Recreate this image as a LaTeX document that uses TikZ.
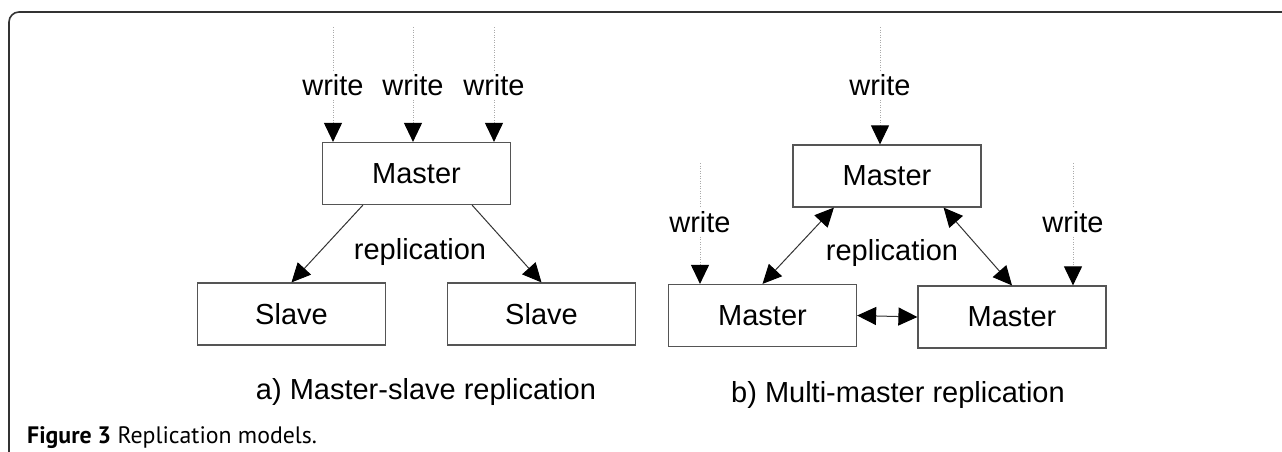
\documentclass[tikz,border=0pt]{standalone}
\usepackage{fontspec}
\setmainfont{Liberation Sans}
\newfontfamily\capfont{PT Sans}
\usetikzlibrary{arrows.meta,calc}
\definecolor{boxgray}{HTML}{555555}
\definecolor{linegray}{HTML}{333333}
\definecolor{dotgray}{HTML}{AAAAAA}
\tikzset{
  box/.style={draw=boxgray, line width=1.2pt, minimum width=188pt, minimum height=62pt, inner sep=0pt, font=\fontsize{29}{34}\selectfont},
  lbl/.style={inner sep=4pt, font=\fontsize{29}{34}\selectfont},
  dotline/.style={draw=dotgray, line width=1pt, dash pattern=on 1pt off 1.5pt},
  tip/.style={-{Triangle[length=19pt,width=18pt,color=black]}},
  tips/.style={{Triangle[length=19pt,width=18pt,color=black]}-{Triangle[length=19pt,width=18pt,color=black]}},
  repl/.style={draw=linegray, line width=1pt},
}
\begin{document}
\begin{tikzpicture}[x=1pt,y=-1pt]
\useasboundingbox (0,0) rectangle (1282,451);
\draw[linegray, line width=1.6pt, rounded corners=10pt] (9,452) -- (9,12) -- (1283,12);

% a) master-slave
\node[box] (Ma) at (416.5,173.5) {Master};
\node[box] (S1) at (291.5,314) {Slave};
\node[box] (S2) at (541.5,314) {Slave};
\foreach \n/\x in {1/333,2/413,3/494}{
  \coordinate (ta\n) at (\x,27);
  \node[lbl] (wa\n) at (\x,85) {write};
  \draw[dotline] (ta\n) -- (wa\n);
  \draw[dotline, tip] (wa\n) -- (wa\n |- Ma.north);
}
\draw[repl, tip] ($(Ma.south west)+(41,0)$) -- (S1.north);
\draw[repl, tip] ($(Ma.south east)+(-39,0)$) -- (S2.north);
\node[lbl] (ra) at (420,252) {replication};
\node[lbl] (capa) at (426,392) {a) Master-slave replication};

% b) multi-master
\node[box] (Mt) at (887,176) {Master};
\node[box] (Ml) at (762.5,315.5) {Master};
\node[box] (Mr) at (1012,317) {Master};
\coordinate (tb) at (880,27);
\node[lbl] (wb) at (880,85) {write};
\draw[dotline] (tb) -- (wb);
\draw[dotline, tip] (wb) -- (wb |- Mt.north);
\coordinate (tl) at (700,163);
\node[lbl] (wl) at (700,222) {write};
\draw[dotline] (tl) -- (wl);
\draw[dotline, tip] (wl) -- (wl |- Ml.north);
\coordinate (tr) at (1073,163);
\node[lbl] (wr) at (1073,222) {write};
\draw[dotline] (tr) -- (wr);
\draw[dotline, tip] (wr) -- (wr |- Mr.north);
\draw[repl, tips] ($(Mt.south west)+(41.5,0)$) -- (Ml.north);
\draw[repl, tips] ($(Mt.south east)+(-38,0)$) -- (Mr.north);
\draw[repl, tips] (Ml.east) -- (Mr.west);
\node[lbl] (rb) at (892,253) {replication};
\node[lbl] (capb) at (898,395) {b) Multi-master replication};

\node[anchor=base west, inner sep=0pt, font=\capfont\fontsize{23.8}{28}\selectfont] (fig) at (27,443) {\textbf{Figure 3} Replication models.};
\end{tikzpicture}
\end{document}
